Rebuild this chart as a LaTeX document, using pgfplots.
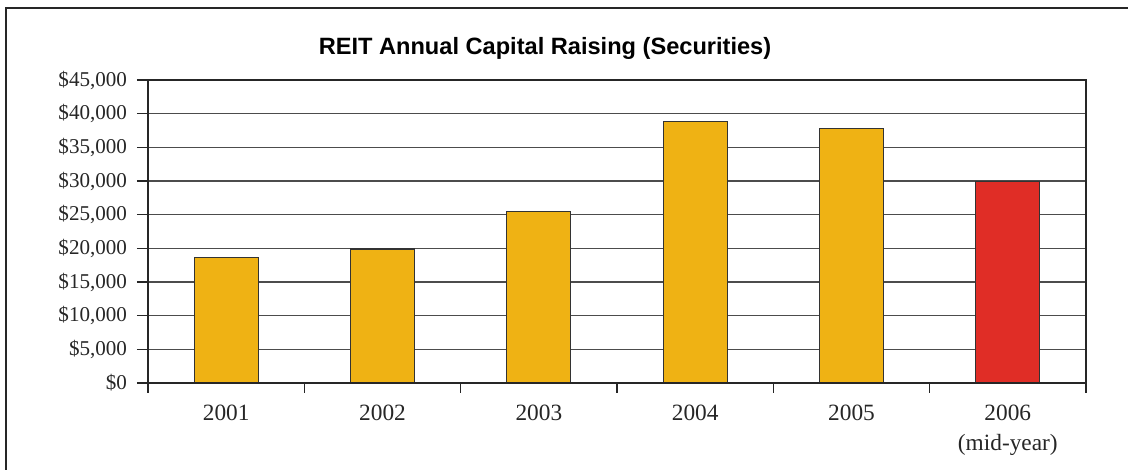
\documentclass[border=0pt]{standalone}
\usepackage{pgfplots}
\pgfplotsset{compat=1.18}
\usepackage{fontspec}
\setmainfont{Liberation Serif}
\newfontfamily\titlefont{Liberation Sans}
\definecolor{gold}{RGB}{239,178,20}
\definecolor{redbar}{RGB}{224,45,38}
\begin{document}
\begin{tikzpicture}
\useasboundingbox (0,0) rectangle (846pt,352.5pt);
\draw[line width=1.5pt, black!85] (4.5pt,0) -- (4.5pt,346.5pt) -- (846pt,346.5pt);
\node[font=\titlefont\bfseries\fontsize{17.7}{20}\selectfont] at (408.75pt,316.5pt) {REIT Annual Capital Raising (Securities)};
\begin{axis}[
  at={(111pt,65.25pt)}, anchor=south west,
  scale only axis, width=703.5pt, height=227.25pt,
  xmin=-0.5, xmax=5.5, ymin=0, ymax=45000,
  xtick={0,...,5},
  xticklabels={2001,2002,2003,2004,2005,{2006\\(mid-year)}},
  xticklabel style={align=center, font=\fontsize{17.5}{23}\selectfont, text=black!85, yshift=-4.5pt},
  minor xtick={-0.5,0.5,...,5.5},
  major x tick style={draw=none},
  xtick pos=bottom, ytick pos=left,
  ytick={0,5000,...,45000},
  scaled y ticks=false,
  yticklabel={\$\pgfmathprintnumber{\tick}},
  yticklabel style={font=\fontsize{15.8}{17}\selectfont, text=black!85, xshift=-4pt},
  /pgf/number format/.cd, fixed, precision=0, 1000 sep={,}, assume math mode=true,
  /pgfplots/.cd,
  tick align=outside,
  major tick length=8.25pt,
  minor tick length=7.5pt,
  tick style={black!85, line width=0.9pt},
  ymajorgrids,
  grid style={black!70, line width=0.8pt},
  axis line style={black!85, line width=1pt},
  clip=false,
]
\addplot[ybar, bar shift=0pt, bar width=48pt, fill=gold, draw=black!80, line width=0.8pt]
  coordinates {(0,18600) (1,19900) (2,25500) (3,38800) (4,37800)};
\addplot[ybar, bar shift=0pt, bar width=48pt, fill=redbar, draw=black!80, line width=0.8pt]
  coordinates {(5,29900)};
\draw[line width=2.2pt, black!85] (rel axis cs:0,1) -- (rel axis cs:0,0) -- (rel axis cs:1,0);
\end{axis}
\end{tikzpicture}
\end{document}
